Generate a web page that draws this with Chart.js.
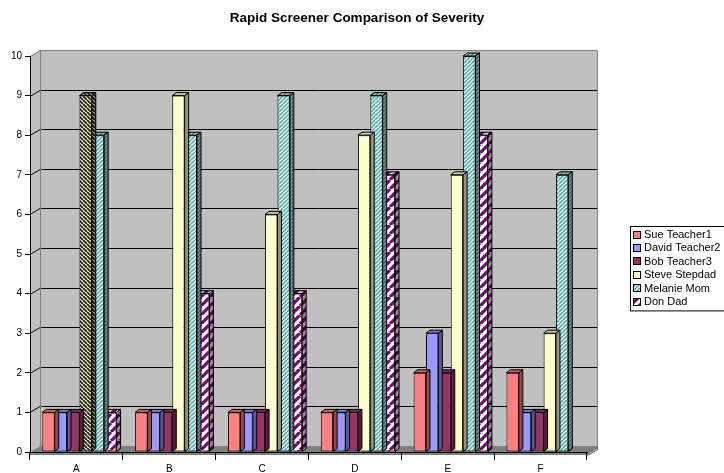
<!DOCTYPE html>
<html>
<head>
<meta charset="utf-8">
<script src="https://cdn.jsdelivr.net/npm/chart.js@4/dist/chart.umd.min.js"></script>
<style>
  html, body { margin: 0; padding: 0; background: #ffffff; }
  canvas { display: block; }
</style>
</head>
<body>
<canvas id="chart" width="724" height="473"></canvas>
<script>
// ---- data ----
const categories    = ['A', 'B', 'C', 'D', 'E', 'F'];
const sueTeacher1   = [1, 1, 1, 1, 2, 2];
const davidTeacher2 = [1, 1, 1, 1, 3, 1];
const bobTeacher3   = [1, 1, 1, 1, 2, 1];
const steveStepdad  = [9, 9, 6, 8, 7, 3];
const melanieMom    = [8, 8, 9, 9, 10, 7];
const donDad        = [1, 4, 4, 7, 8, null];
const yMin = 0, yMax = 10, yStep = 1;
const chartTitle = 'Rapid Screener Comparison of Severity';

const FONT = '"Liberation Sans", Arial, sans-serif';
const canvas = document.getElementById('chart');
const ctx = canvas.getContext('2d');

// ---- fill patterns ----
function stripes(bg, fg, period, lineW, downward) {
  const c = document.createElement('canvas');
  c.width = period; c.height = period;
  const g = c.getContext('2d');
  g.fillStyle = bg; g.fillRect(0, 0, period, period);
  g.strokeStyle = fg; g.lineWidth = lineW;
  g.beginPath();
  for (let k = -1; k <= 1; k++) {
    if (downward) { g.moveTo(k * period, 0); g.lineTo(k * period + period, period); }
    else          { g.moveTo(k * period, period); g.lineTo(k * period + period, 0); }
  }
  g.stroke();
  return ctx.createPattern(c, 'repeat');
}
const melaniePattern = stripes('#ccffff', '#5f9595', 4, 1.3, false);
const donPattern     = stripes('#ffffff', '#800080', 9, 3.2, false);
const steveAPattern  = stripes('#ffffcc', '#1a1a1a', 4, 1.8, true);

const steveColors = steveStepdad.map((v, i) => i === 0 ? steveAPattern : '#ffffcc');

const series = [
  { label: 'Sue Teacher1',   data: sueTeacher1,   backgroundColor: '#ff8080' },
  { label: 'David Teacher2', data: davidTeacher2, backgroundColor: '#9999ff' },
  { label: 'Bob Teacher3',   data: bobTeacher3,   backgroundColor: '#993366' },
  { label: 'Steve Stepdad',  data: steveStepdad,  backgroundColor: steveColors, legendFill: '#ffffcc' },
  { label: 'Melanie Mom',    data: melanieMom,    backgroundColor: melaniePattern },
  { label: 'Don Dad',        data: donDad,        backgroundColor: donPattern }
];

// depth of the 3D box (back wall offset) and of each column
const WALL_DX = 10, WALL_DY = 6;
const FLOOR_T = 3;
const BAR_DX = 4, BAR_DY = 3;
const BAR_SHIFT = 3;

// walls, floor and back-wall gridlines
const walls3d = {
  id: 'walls3d',
  beforeDraw(chart) {
    const { ctx: c, chartArea: a, scales: { y } } = chart;
    const L = a.left, R = a.right, B = a.bottom, T = a.top;
    c.save();
    // side wall
    c.fillStyle = '#c0c0c0';
    c.beginPath();
    c.moveTo(L, T); c.lineTo(L + WALL_DX, T - WALL_DY);
    c.lineTo(L + WALL_DX, B - WALL_DY); c.lineTo(L, B); c.closePath();
    c.fill();
    // back wall
    c.fillRect(L + WALL_DX, T - WALL_DY, R - L, B - T);
    // floor slab
    c.fillStyle = '#808080';
    c.beginPath();
    c.moveTo(L, B + FLOOR_T); c.lineTo(R, B + FLOOR_T);
    c.lineTo(R + WALL_DX, B - WALL_DY + FLOOR_T);
    c.lineTo(R + WALL_DX, B - WALL_DY);
    c.lineTo(L + WALL_DX, B - WALL_DY); c.lineTo(L, B); c.closePath();
    c.fill();
    c.strokeStyle = '#5a5a5a';
    c.lineWidth = 1;
    c.beginPath();
    c.moveTo(R + 0.5, B + FLOOR_T + 0.5);
    c.lineTo(R + WALL_DX + 0.5, B - WALL_DY + FLOOR_T + 0.5);
    c.lineTo(R + WALL_DX + 0.5, B - WALL_DY + 0.5);
    c.stroke();
    // gridlines
    c.strokeStyle = '#000000';
    for (let v = yMin + yStep; v < yMax; v += yStep) {
      const py = Math.round(y.getPixelForValue(v)) + 0.5;
      c.beginPath();
      c.moveTo(L, py);
      c.lineTo(L + WALL_DX, py - WALL_DY);
      c.lineTo(R + WALL_DX, py - WALL_DY);
      c.stroke();
    }
    // wall borders
    c.strokeStyle = '#808080';
    c.beginPath();
    c.moveTo(L + 0.5, T + 0.5);
    c.lineTo(L + WALL_DX + 0.5, T - WALL_DY + 0.5);
    c.lineTo(R + WALL_DX + 0.5, T - WALL_DY + 0.5);
    c.lineTo(R + WALL_DX + 0.5, B - WALL_DY + 0.5);
    c.moveTo(L + WALL_DX + 0.5, T - WALL_DY + 0.5);
    c.lineTo(L + WALL_DX + 0.5, B - WALL_DY + 0.5);
    c.stroke();
    // title
    c.fillStyle = '#000000';
    c.font = 'bold 13.5px ' + FONT;
    c.textAlign = 'center';
    c.textBaseline = 'middle';
    c.fillText(chartTitle, 357, 18);
    c.restore();
  }
};

// tops and right-hand sides of the columns
function shade(c, fill, dark) {
  c.fillStyle = fill; c.fill();
  c.fillStyle = 'rgba(0,0,0,' + dark + ')'; c.fill();
  c.stroke();
}
const columns3d = {
  id: 'columns3d',
  beforeDatasetsDraw(chart) { chart.ctx.save(); chart.ctx.translate(BAR_SHIFT, 0); },
  afterDatasetDraw(chart, args) {
    const c = chart.ctx;
    const ds = chart.data.datasets[args.index];
    c.save();
    c.lineWidth = 1;
    c.strokeStyle = '#000000';
    args.meta.data.forEach((bar, i) => {
      const v = ds.data[i];
      if (v === null || v === undefined) return;
      const p = bar.getProps(['x', 'y', 'base', 'width'], true);
      const l = p.x - p.width / 2, r = p.x + p.width / 2;
      const fill = Array.isArray(ds.backgroundColor) ? ds.backgroundColor[i] : ds.backgroundColor;
      c.beginPath();
      c.moveTo(l, p.y); c.lineTo(r, p.y); c.lineTo(r + BAR_DX, p.y - BAR_DY);
      c.lineTo(l + BAR_DX, p.y - BAR_DY); c.closePath();
      shade(c, fill, 0.22);
      c.beginPath();
      c.moveTo(r, p.y); c.lineTo(r + BAR_DX, p.y - BAR_DY);
      c.lineTo(r + BAR_DX, p.base - BAR_DY); c.lineTo(r, p.base); c.closePath();
      shade(c, fill, 0.42);
    });
    c.restore();
  },
  afterDatasetsDraw(chart) { chart.ctx.restore(); }
};

// legend box on the right
const legendBox = {
  id: 'legendBox',
  afterDraw(chart) {
    const c = chart.ctx;
    const x0 = 630, y0 = 226, rowH = 13.4;
    c.save();
    c.lineWidth = 1;
    c.strokeStyle = '#000000';
    c.fillStyle = '#ffffff';
    c.fillRect(x0 + 0.5, y0 + 0.5, 120, rowH * series.length + 4);
    c.strokeRect(x0 + 0.5, y0 + 0.5, 120, rowH * series.length + 4);
    c.font = '11px ' + FONT;
    c.textBaseline = 'middle';
    c.textAlign = 'left';
    series.forEach((s, i) => {
      const cy = y0 + 8.5 + i * rowH;
      const fill = s.legendFill || s.backgroundColor;
      c.fillStyle = fill;
      c.fillRect(x0 + 3.5, Math.round(cy) - 3.5, 7, 7);
      c.strokeRect(x0 + 3.5, Math.round(cy) - 3.5, 7, 7);
      c.fillStyle = '#000000';
      c.fillText(s.label, x0 + 14, cy + 0.5);
    });
    c.restore();
  }
};

new Chart(canvas, {
  type: 'bar',
  data: {
    labels: categories,
    datasets: series.map(s => ({
      label: s.label,
      data: s.data,
      backgroundColor: s.backgroundColor,
      borderColor: '#000000',
      borderWidth: 1,
      borderSkipped: false,
      clip: false,
      categoryPercentage: 0.8,
      barPercentage: 1.0
    }))
  },
  options: {
    responsive: false,
    animation: false,
    devicePixelRatio: 1,
    layout: { padding: { top: 56, left: 0, right: 137, bottom: 0 } },
    plugins: {
      legend: { display: false },
      title: { display: false },
      tooltip: { enabled: false }
    },
    scales: {
      x: {
        afterFit(axis) { axis.height = 21; },
        grid: { display: true, drawOnChartArea: false, offset: true, tickLength: 8, color: '#000000' },
        border: { display: true, color: '#000000' },
        ticks: { color: '#000000', font: { family: FONT, size: 10 }, padding: 3, maxRotation: 0 }
      },
      y: {
        min: yMin, max: yMax,
        afterFit(axis) { axis.width = 30; },
        grid: { display: true, drawOnChartArea: false, tickLength: 5, color: '#000000' },
        border: { display: true, color: '#000000' },
        ticks: { stepSize: yStep, color: '#000000', font: { family: FONT, size: 10 }, padding: 3 }
      }
    }
  },
  plugins: [walls3d, columns3d, legendBox]
});
</script>
</body>
</html>
